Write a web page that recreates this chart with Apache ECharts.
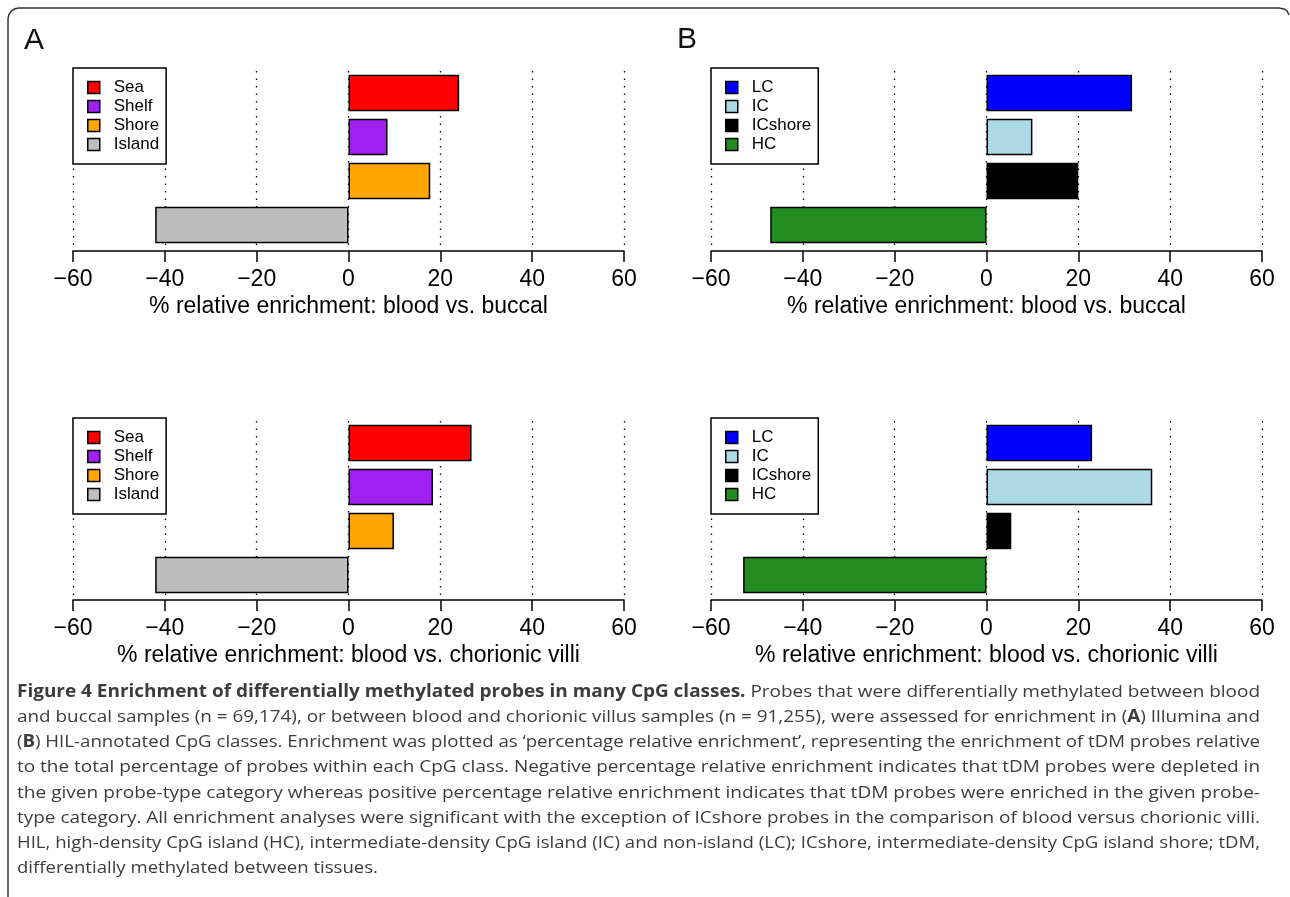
<!DOCTYPE html>
<html>
<head>
<meta charset="utf-8">
<script src="https://cdn.jsdelivr.net/npm/echarts@6/dist/echarts.min.js"></script>
<style>
  html, body { margin: 0; background: #fff; }
  #chart { width: 1290px; height: 897px; }
</style>
</head>
<body>
<div id="chart"></div>
<script>
// --- data ---
const illuminaClasses = ["Sea", "Shelf", "Shore", "Island"];
const hilClasses = ["LC", "IC", "ICshore", "HC"];
const illuminaColors = ["#ff0000", "#a020f0", "#ffa500", "#bebebe"];
const hilColors = ["#0000ff", "#add8e6", "#000000", "#228b22"];

const buccalIllumina = [24.1, 8.5, 17.8, -42.1];
const buccalHil = [31.7, 10.0, 20.0, -47.1];
const villiIllumina = [26.8, 18.4, 9.9, -42.1];
const villiHil = [23.0, 36.1, 5.4, -53.0];

const axisMin = -60;
const axisMax = 60;
const axisStep = 20;

const titleBuccal = "% relative enrichment: blood vs. buccal";
const titleVilli = "% relative enrichment: blood vs. chorionic villi";

// layout of the four panels (A top, B top, A bottom, B bottom)
const panels = [
  { cats: illuminaClasses, colors: illuminaColors, values: buccalIllumina, title: titleBuccal, left: 73, top: 71, offset: 4, legendTop: 68 },
  { cats: hilClasses, colors: hilColors, values: buccalHil, title: titleBuccal, left: 711, top: 71, offset: 4, legendTop: 68 },
  { cats: illuminaClasses, colors: illuminaColors, values: villiIllumina, title: titleVilli, left: 73, top: 421, offset: 3, legendTop: 418 },
  { cats: hilClasses, colors: hilColors, values: villiHil, title: titleVilli, left: 711, top: 421, offset: 3, legendTop: 418 }
];

const FONT = "'Liberation Sans', Arial, Helvetica, sans-serif";
const minus = v => (v < 0 ? "\u2212" + Math.abs(v) : String(v));

const grids = [], xAxes = [], yAxes = [], series = [], legends = [];

panels.forEach((p, pi) => {
  grids.push({ left: p.left, width: 551, top: p.top, height: 176, containLabel: false });
  xAxes.push({
    type: "value", gridIndex: pi, min: axisMin, max: axisMax, interval: axisStep,
    position: "bottom", offset: p.offset,
    axisLine: { show: true, onZero: false, lineStyle: { color: "#000", width: 1.5 } },
    axisTick: { show: true, length: 11, lineStyle: { color: "#000", width: 1.5 } },
    axisLabel: { formatter: minus, color: "#000", fontSize: 23, fontFamily: FONT, margin: 17 },
    splitLine: { show: true, lineStyle: { color: "#000", width: 1.3, type: [1.5, 6] } },
    name: p.title, nameLocation: "middle", nameGap: 44,
    nameTextStyle: { color: "#000", fontSize: 23, fontFamily: FONT }
  });
  yAxes.push({ type: "category", gridIndex: pi, data: p.cats, inverse: true, show: false });

  p.cats.forEach((c, ci) => {
    series.push({
      name: c, type: "bar", xAxisIndex: pi, yAxisIndex: pi,
      barWidth: 36.5, barGap: "-100%",
      data: p.values.map((v, k) => (k === ci ? v : "-")),
      itemStyle: { color: p.colors[ci], borderColor: "#000", borderWidth: 1.5 }
    });
  });

  legends.push({
    data: p.cats, orient: "vertical", left: p.left, top: p.legendTop,
    icon: "rect", itemWidth: 12, itemHeight: 12, itemGap: 2,
    padding: [11, 7, 11, 14],
    backgroundColor: "#fff", borderColor: "#000", borderWidth: 1.5, borderRadius: 0,
    selectedMode: false,
    itemStyle: { borderColor: "#000", borderWidth: 1.5 },
    textStyle: { color: "#000", fontSize: 17, lineHeight: 17, fontFamily: FONT, padding: [0, 0, 0, 9] }
  });
});

// --- caption, one entry per printed line, bold runs marked ---
const captionLines = [
  [["Figure 4 Enrichment of differentially methylated probes in many CpG classes.", 1], [" Probes that were differentially methylated between blood", 0]],
  [["and buccal samples (n = 69,174), or between blood and chorionic villus samples (n = 91,255), were assessed for enrichment in (", 0], ["A", 1], [") Illumina and", 0]],
  [["(", 0], ["B", 1], [") HIL-annotated CpG classes. Enrichment was plotted as \u2018percentage relative enrichment\u2019, representing the enrichment of tDM probes relative", 0]],
  [["to the total percentage of probes within each CpG class. Negative percentage relative enrichment indicates that tDM probes were depleted in", 0]],
  [["the given probe-type category whereas positive percentage relative enrichment indicates that tDM probes were enriched in the given probe-", 0]],
  [["type category. All enrichment analyses were significant with the exception of ICshore probes in the comparison of blood versus chorionic villi.", 0]],
  [["HIL, high-density CpG island (HC), intermediate-density CpG island (IC) and non-island (LC); ICshore, intermediate-density CpG island shore; tDM,", 0]],
  [["differentially methylated between tissues.", 0]]
];

const CAP_FONT = "'Open Sans', 'Noto Sans', sans-serif";
const CAP_SIZE = 17;
const ctx = document.createElement("canvas").getContext("2d");
function lineWidth(segs) {
  return segs.reduce((w, s) => {
    ctx.font = (s[1] ? "bold " : "") + CAP_SIZE + "px " + CAP_FONT;
    return w + ctx.measureText(s[0]).width;
  }, 0);
}

const capLeft = 17, capRight = 1260, capTop = 692, capStep = 25.2;
const graphics = [];
let lastScale = 1;
captionLines.forEach((segs, i) => {
  const w = lineWidth(segs);
  let s = (capRight - capLeft) / w;
  if (i === captionLines.length - 1) s = lastScale;
  lastScale = s;
  graphics.push({
    type: "text", x: capLeft, y: capTop + i * capStep, scaleX: s, silent: true,
    style: {
      text: segs.map(sg => (sg[1] ? "{b|" + sg[0] + "}" : sg[0])).join(""),
      fontFamily: CAP_FONT, fontSize: CAP_SIZE, fill: "#3c3c3c", verticalAlign: "middle",
      rich: { b: { fontFamily: CAP_FONT, fontSize: CAP_SIZE, fontWeight: "bold", color: "#1a1a1a" } }
    }
  });
});

// panel letters and frame
graphics.push(
  { type: "text", x: 24, y: 41, silent: true, style: { text: "A", fontFamily: FONT, fontSize: 30, fill: "#111", verticalAlign: "middle" } },
  { type: "text", x: 677, y: 40, silent: true, style: { text: "B", fontFamily: FONT, fontSize: 30, fill: "#111", verticalAlign: "middle" } },
  { type: "polyline", silent: true,
    shape: { points: [[8, 897], [8, 19], [8.8, 14.8], [11.2, 11.2], [14.8, 8.8], [19, 8], [1279, 8], [1284, 9], [1287, 11], [1289, 15]] },
    style: { fill: null, stroke: "#333", lineWidth: 1.5 } }
);

const chart = echarts.init(document.getElementById("chart"), null, { renderer: "canvas" });
chart.setOption({
  animation: false,
  backgroundColor: "#fff",
  grid: grids,
  xAxis: xAxes,
  yAxis: yAxes,
  legend: legends,
  series: series,
  graphic: graphics
});
</script>
</body>
</html>
